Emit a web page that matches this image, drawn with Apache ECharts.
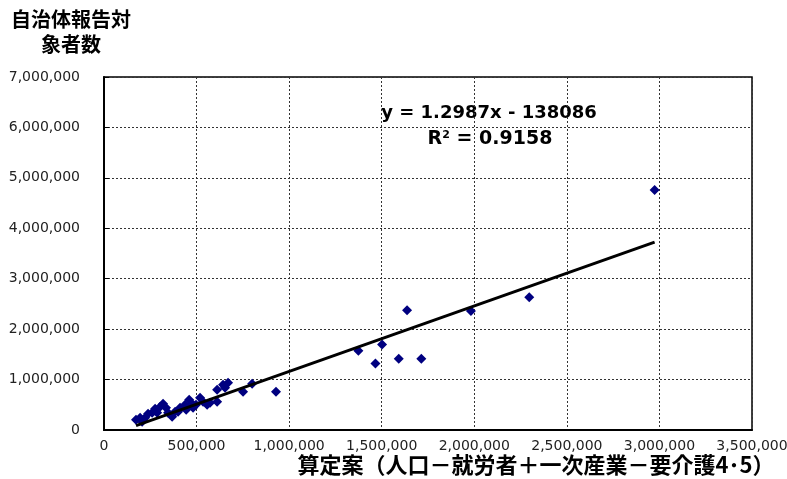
<!DOCTYPE html>
<html>
<head>
<meta charset="utf-8">
<script src="https://cdn.jsdelivr.net/npm/echarts@6/dist/echarts.min.js"></script>
<style>html,body{margin:0;padding:0;background:#fff;}#c{width:787px;height:479px;}</style>
</head>
<body>
<div id="c"></div>
<script>
// Data
const xValues = [173000,206000,222000,238000,260000,287000,303000,319000,346000,368000,384000,411000,438000,460000,481000,497000,519000,535000,557000,573000,611000,611000,643000,670000,654000,751000,800000,929000,195000,276000,335000,400000,444000,476000,
  1374000,1502000,1466000,1592000,1714000,1637000,1982000,2297000,2974000];
const yValues = [204000,164000,244000,323000,343000,343000,462000,521000,343000,263000,362000,442000,501000,600000,442000,501000,640000,560000,501000,541000,560000,798000,897000,937000,838000,758000,917000,758000,244000,422000,442000,362000,402000,521000,
  1570000,1695000,1319000,1412000,1412000,2376000,2362000,2630000,4758000];
const trendSlope = 1.2987;
const trendIntercept = -138086;
const xTicks = [0,500000,1000000,1500000,2000000,2500000,3000000,3500000];
const yTicks = [0,1000000,2000000,3000000,4000000,5000000,6000000,7000000];
const yTitleLines = ['自治体報告対','象者数'];
const xTitle = '算定案（人口－就労者＋一次産業－要介護4･5）';
const eqText = 'y = 1.2987x - 138086';
const r2Text = 'R{s|2} = 0.9158';

const pts = xValues.map((x,i)=>[x,yValues[i]]);
const xmin = Math.min(...xValues), xmax = Math.max(...xValues);
const trend = [[xmin, trendSlope*xmin+trendIntercept],[xmax, trendSlope*xmax+trendIntercept]];
const fmt = v => v.toLocaleString('en-US');
const cjk = 'Noto Sans CJK JP, sans-serif';
const latin = 'DejaVu Sans, sans-serif';

const chart = echarts.init(document.getElementById('c'), null, {renderer:'canvas'});
chart.setOption({
  animation:false,
  backgroundColor:'#fff',
  grid:{left:104,right:35,top:77,bottom:49,show:true,borderColor:'#000',borderWidth:1.5,containLabel:false,outerBoundsMode:'none'},
  xAxis:{type:'value',min:xTicks[0],max:xTicks[xTicks.length-1],interval:500000,
    axisLine:{show:true,lineStyle:{color:'#000',width:2}},
    axisTick:{show:false},
    splitLine:{show:true,lineStyle:{color:'#333',type:[2,2],width:1}},
    axisLabel:{color:'#222',fontSize:14,fontFamily:latin,margin:9,formatter:fmt,hideOverlap:false}},
  yAxis:{type:'value',min:yTicks[0],max:yTicks[yTicks.length-1],interval:1000000,
    axisLine:{show:true,lineStyle:{color:'#000',width:2}},
    axisTick:{show:true,inside:true,length:5,lineStyle:{color:'#000'}},
    splitLine:{show:true,lineStyle:{color:'#333',type:[2,2],width:1}},
    axisLabel:{color:'#222',fontSize:14,fontFamily:latin,margin:24,formatter:fmt}},
  graphic:[
    {type:'text',x:71,y:9,style:{text:yTitleLines[0],fontSize:20,fontWeight:'bold',fill:'#000',align:'center',fontFamily:cjk}},
    {type:'text',x:71,y:34,style:{text:yTitleLines[1],fontSize:20,fontWeight:'bold',fill:'#000',align:'center',fontFamily:cjk}},
    {type:'text',x:536,y:454,style:{text:xTitle,fontSize:22,fontWeight:'bold',fill:'#000',align:'center',fontFamily:cjk}},
    {type:'text',x:489,y:104,style:{text:eqText,fontSize:18,fontWeight:'bold',fill:'#000',align:'center',fontFamily:latin}},
    {type:'text',x:490,y:130,style:{text:r2Text,fontSize:19,fontWeight:'bold',fill:'#000',align:'center',fontFamily:latin,
      rich:{s:{fontSize:11,fontWeight:'bold',verticalAlign:'top',padding:[0,0,8,0],fontFamily:latin}}}}
  ],
  series:[
    {type:'scatter',data:pts,symbol:'diamond',symbolSize:[10,10],itemStyle:{color:'#000080',opacity:1},z:3},
    {type:'line',data:trend,symbol:'none',lineStyle:{color:'#000',width:3},z:4,silent:true}
  ]
});
</script>
</body>
</html>
